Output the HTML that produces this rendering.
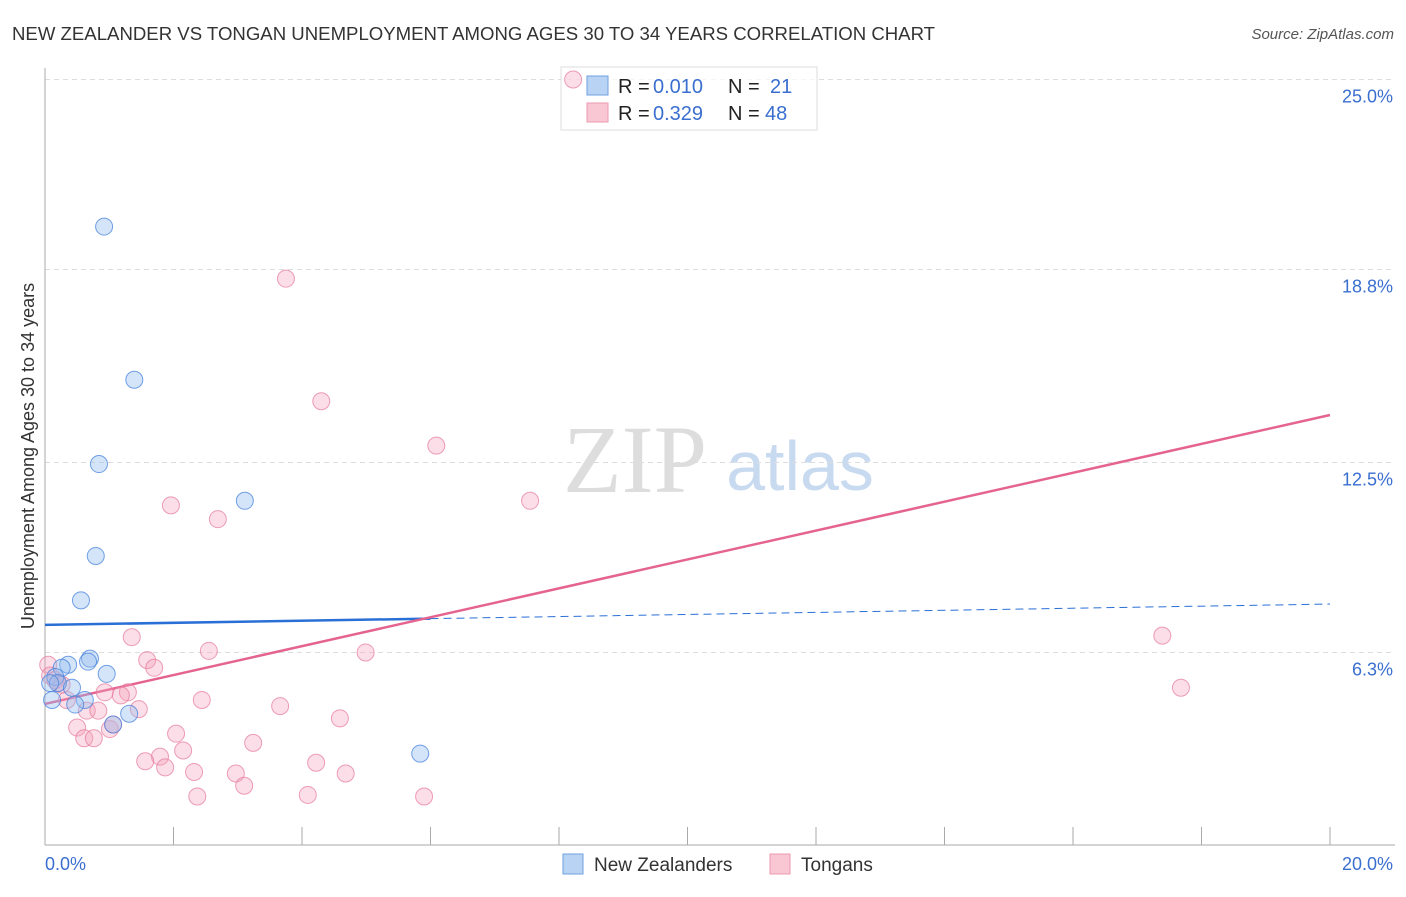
<!DOCTYPE html>
<html><head><meta charset="utf-8"><style>
body{margin:0;background:#fff;font-family:"Liberation Sans",sans-serif}
</style></head><body>
<svg width="1406" height="892" id="c" xmlns="http://www.w3.org/2000/svg">
<text x="12" y="40" font-size="18.6" fill="#333">NEW ZEALANDER VS TONGAN UNEMPLOYMENT AMONG AGES 30 TO 34 YEARS CORRELATION CHART</text>
<text x="1394" y="39" font-size="15" fill="#555" font-style="italic" text-anchor="end">Source: ZipAtlas.com</text>
<text x="635" y="492" font-size="96" fill="#ddd" font-family="Liberation Serif" text-anchor="middle">ZIP</text>
<text x="800" y="490" font-size="70" fill="#c8daf0" text-anchor="middle">atlas</text>
<text transform="translate(34,456) rotate(-90)" font-size="18" fill="#333" text-anchor="middle">Unemployment Among Ages 30 to 34 years</text>
<g id="grid"></g><g id="lines"></g>
<g>
<rect x="561" y="67" width="256" height="63" fill="#fff" fill-opacity="0.7" stroke="#ddd"/>
<rect x="587" y="76" width="21" height="19" fill="#b9d3f5" stroke="#6fa0e0"/>
<rect x="587" y="103" width="21" height="19" fill="#f9c6d4" stroke="#ec9ab2"/>
<text x="618" y="93" font-size="20" fill="#222">R =</text>
<text x="653" y="93" font-size="20" fill="#3a6fd0">0.010</text>
<text x="728" y="93" font-size="20" fill="#222">N =</text>
<text x="770" y="93" font-size="20" fill="#3a6fd0">21</text>
<text x="618" y="120" font-size="20" fill="#222">R =</text>
<text x="653" y="120" font-size="20" fill="#3a6fd0">0.329</text>
<text x="728" y="120" font-size="20" fill="#222">N =</text>
<text x="765" y="120" font-size="20" fill="#3a6fd0">48</text>
</g>
<g id="pts"></g>
<g>
<rect x="563" y="854" width="20" height="20" fill="#b9d3f5" stroke="#6fa0e0"/>
<text x="594" y="871" font-size="19" fill="#333">New Zealanders</text>
<rect x="770" y="854" width="20" height="20" fill="#f9c6d4" stroke="#ec9ab2"/>
<text x="801" y="871" font-size="19" fill="#333">Tongans</text>
</g>
</svg>
<script>
const blueX=[0.92,1.39,0.84,3.11,0.79,0.56,0.70,0.67,0.36,0.26,0.96,0.16,0.2,0.42,0.08,0.62,0.11,0.47,1.31,1.06,5.84];
const blueY=[20.2,15.2,12.45,11.25,9.45,8.0,6.1,6.0,5.9,5.8,5.6,5.5,5.3,5.15,5.3,4.75,4.75,4.6,4.3,3.95,3.0];
const pinkX=[8.22,3.75,4.30,6.09,7.55,1.96,2.69,1.35,17.39,2.55,4.99,1.59,1.70,0.05,17.68,0.93,1.29,1.18,2.44,0.34,0.65,0.83,1.46,3.66,4.59,0.5,1.01,0.61,0.76,2.04,3.24,2.15,1.79,1.56,1.87,4.22,2.32,2.97,4.68,3.10,2.37,4.09,5.90,0.26,0.16,0.08,1.06,0.2];
const pinkY=[25.0,18.5,14.5,13.05,11.25,11.1,10.65,6.8,6.85,6.35,6.3,6.05,5.8,5.9,5.15,5.0,5.0,4.9,4.75,4.75,4.4,4.4,4.45,4.55,4.15,3.85,3.8,3.5,3.5,3.65,3.35,3.1,2.9,2.75,2.55,2.7,2.4,2.35,2.35,1.95,1.6,1.65,1.6,5.25,5.4,5.55,3.95,5.3];
const yTicks=[25.0,18.8,12.5,6.3];
const yTickLabels=["25.0%","18.8%","12.5%","6.3%"];
const blueLine=[7.2,7.88];
const pinkLine=[4.62,14.05];
const NS="http://www.w3.org/2000/svg";
const sx=v=>45+v*64.25, sy=v=>845.5-v*30.64;
function mk(t,a,p){const e=document.createElementNS(NS,t);for(const k in a)e.setAttribute(k,a[k]);document.getElementById(p).appendChild(e);return e;}
yTicks.forEach((t,i)=>{
 const g=mk('line',{x1:45,x2:1395,y1:sy(t),y2:sy(t),stroke:'#ddd','stroke-dasharray':'5,4'},'grid');
 
 
 const l=mk('text',{x:1393,y:sy(t)+23,'font-size':18,fill:'#3a6fd0','text-anchor':'end'},'grid');
 l.textContent=yTickLabels[i];
 
 
});
const ax=mk('line',{x1:45,x2:45,y1:68,y2:845,stroke:'#aaa'},'grid');


const bx=mk('line',{x1:45,x2:1395,y1:845,y2:845,stroke:'#aaa'},'grid');


for(let v=2;v<=20;v+=2){const t=mk('line',{x1:sx(v),x2:sx(v),y1:827,y2:845,stroke:'#aaa'},'grid');
 
 }
[["0.0%",45,'start'],["20.0%",1393,'end']].forEach(a=>{const t=mk('text',{x:a[1],y:870,'font-size':18,fill:'#3a6fd0','text-anchor':a[2]},'grid');t.textContent=a[0];
 
 });
pinkX.forEach((x,i)=>{const c=mk('circle',{cx:sx(x),cy:sy(pinkY[i]),r:8.5,fill:'rgba(244,160,185,0.35)',stroke:'rgba(230,120,155,0.7)'},'pts');
 
 });
blueX.forEach((x,i)=>{const c=mk('circle',{cx:sx(x),cy:sy(blueY[i]),r:8.5,fill:'rgba(150,190,240,0.4)',stroke:'rgba(70,130,220,0.75)'},'pts');
 
 });
const bm=blueLine[0]+(blueLine[1]-blueLine[0])*6/20;
const b1=mk('line',{x1:sx(0),y1:sy(blueLine[0]),x2:sx(6),y2:sy(bm),stroke:'#2a6fd6','stroke-width':2.5},'lines');


const b2=mk('line',{x1:sx(6),y1:sy(bm),x2:sx(20),y2:sy(blueLine[1]),stroke:'#2a6fd6','stroke-width':1,'stroke-dasharray':'8,5'},'lines');


const p=mk('line',{x1:sx(0),y1:sy(pinkLine[0]),x2:sx(20),y2:sy(pinkLine[1]),stroke:'#e4648f','stroke-width':2.5},'lines');


</script>
</body></html>
